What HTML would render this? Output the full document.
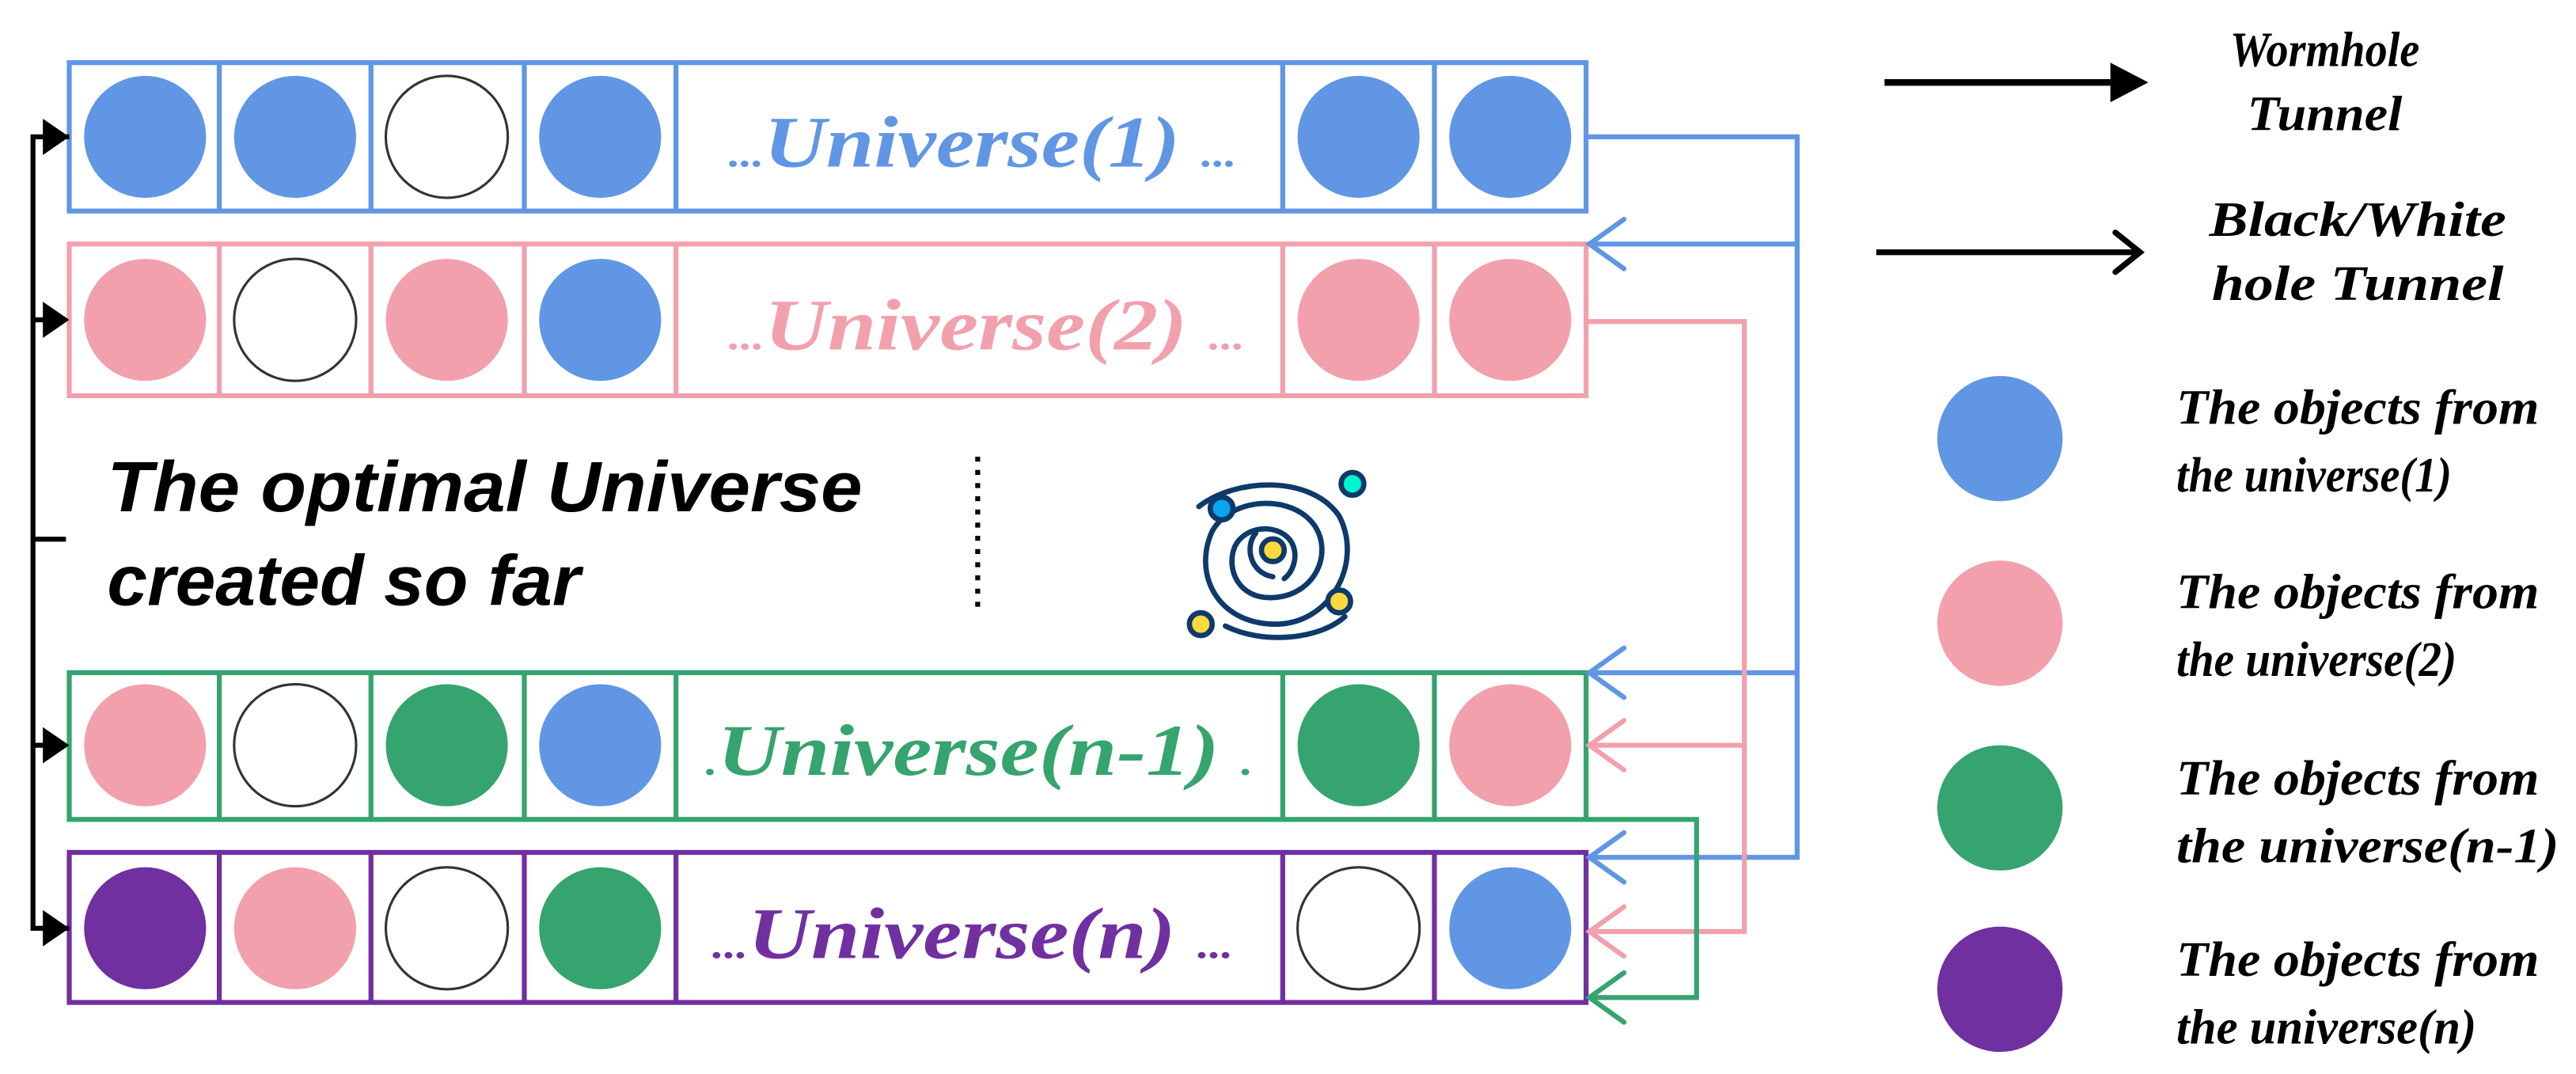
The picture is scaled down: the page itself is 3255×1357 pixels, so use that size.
<!DOCTYPE html>
<html><head><meta charset="utf-8"><style>html,body{margin:0;padding:0;background:#fff}svg{display:block}
.s{font-family:"Liberation Serif","Times New Roman",serif;font-weight:bold;font-style:italic}
.a{font-family:"Liberation Sans",Arial,sans-serif;font-weight:bold;font-style:italic}
</style></head>
<body>
<svg xmlns="http://www.w3.org/2000/svg" width="3255" height="1357" viewBox="0 0 1562.4 651.4" preserveAspectRatio="none">
<g class="s">
<!-- Row 1 -->
<g stroke="#6096E4" stroke-width="3" fill="none">
<rect x="42" y="38" width="920" height="90"/>
<line x1="133" y1="38" x2="133" y2="128"/><line x1="225" y1="38" x2="225" y2="128"/><line x1="318" y1="38" x2="318" y2="128"/><line x1="410" y1="38" x2="410" y2="128"/><line x1="778" y1="38" x2="778" y2="128"/><line x1="870" y1="38" x2="870" y2="128"/>
</g>
<circle cx="88" cy="83" r="37" fill="#6096E4"/><circle cx="179" cy="83" r="37" fill="#6096E4"/><circle cx="271" cy="83" r="37" fill="#fff" stroke="#333" stroke-width="1.5"/><circle cx="364" cy="83" r="37" fill="#6096E4"/><circle cx="824" cy="83" r="37" fill="#6096E4"/><circle cx="916" cy="83" r="37" fill="#6096E4"/>
<text class="s" x="442" y="101" font-size="44" fill="#6096E4" textLength="308" lengthAdjust="spacingAndGlyphs"><tspan font-size="24">...</tspan>Universe(1) <tspan font-size="24">...</tspan></text>
<!-- Row 2 -->
<g stroke="#F2A0AC" stroke-width="3" fill="none">
<rect x="42" y="148" width="920" height="92"/>
<line x1="133" y1="148" x2="133" y2="240"/><line x1="225" y1="148" x2="225" y2="240"/><line x1="318" y1="148" x2="318" y2="240"/><line x1="410" y1="148" x2="410" y2="240"/><line x1="778" y1="148" x2="778" y2="240"/><line x1="870" y1="148" x2="870" y2="240"/>
</g>
<circle cx="88" cy="194" r="37" fill="#F2A0AC"/><circle cx="179" cy="194" r="37" fill="#fff" stroke="#333" stroke-width="1.5"/><circle cx="271" cy="194" r="37" fill="#F2A0AC"/><circle cx="364" cy="194" r="37" fill="#6096E4"/><circle cx="824" cy="194" r="37" fill="#F2A0AC"/><circle cx="916" cy="194" r="37" fill="#F2A0AC"/>
<text class="s" x="442" y="212" font-size="44" fill="#F2A0AC" textLength="313" lengthAdjust="spacingAndGlyphs"><tspan font-size="24">...</tspan>Universe(2) <tspan font-size="24">...</tspan></text>
<!-- Row n-1 -->
<g stroke="#35A46E" stroke-width="3" fill="none">
<rect x="42" y="408" width="920" height="89"/>
<line x1="133" y1="408" x2="133" y2="497"/><line x1="225" y1="408" x2="225" y2="497"/><line x1="318" y1="408" x2="318" y2="497"/><line x1="410" y1="408" x2="410" y2="497"/><line x1="778" y1="408" x2="778" y2="497"/><line x1="870" y1="408" x2="870" y2="497"/>
</g>
<circle cx="88" cy="452" r="37" fill="#F2A0AC"/><circle cx="179" cy="452" r="37" fill="#fff" stroke="#333" stroke-width="1.5"/><circle cx="271" cy="452" r="37" fill="#35A46E"/><circle cx="364" cy="452" r="37" fill="#6096E4"/><circle cx="824" cy="452" r="37" fill="#35A46E"/><circle cx="916" cy="452" r="37" fill="#F2A0AC"/>
<text class="s" x="428" y="470" font-size="44" fill="#35A46E" textLength="332" lengthAdjust="spacingAndGlyphs"><tspan font-size="24">.</tspan>Universe(n-1) <tspan font-size="24">.</tspan></text>
<!-- Row n -->
<g stroke="#7030A0" stroke-width="3" fill="none">
<rect x="42" y="517" width="920" height="91"/>
<line x1="133" y1="517" x2="133" y2="608"/><line x1="225" y1="517" x2="225" y2="608"/><line x1="318" y1="517" x2="318" y2="608"/><line x1="410" y1="517" x2="410" y2="608"/><line x1="778" y1="517" x2="778" y2="608"/><line x1="870" y1="517" x2="870" y2="608"/>
</g>
<circle cx="88" cy="563" r="37" fill="#7030A0"/><circle cx="179" cy="563" r="37" fill="#F2A0AC"/><circle cx="271" cy="563" r="37" fill="#fff" stroke="#333" stroke-width="1.5"/><circle cx="364" cy="563" r="37" fill="#35A46E"/><circle cx="824" cy="563" r="37" fill="#fff" stroke="#333" stroke-width="1.5"/><circle cx="916" cy="563" r="37" fill="#6096E4"/>
<text class="s" x="432" y="581" font-size="44" fill="#7030A0" textLength="316" lengthAdjust="spacingAndGlyphs"><tspan font-size="24">...</tspan>Universe(n) <tspan font-size="24">...</tspan></text>

<!-- left black connector -->
<g stroke="#000" stroke-width="3" fill="none">
<polyline points="42,83 20,83 20,563 42,563"/>
<line x1="20" y1="194" x2="36" y2="194"/><line x1="20" y1="452" x2="36" y2="452"/><line x1="20" y1="327" x2="40" y2="327"/>
</g>
<g fill="#000">
<polygon points="42,83 26,72 26,94"/><polygon points="42,194 26,183 26,205"/><polygon points="42,452 26,441 26,463"/><polygon points="42,563 26,552 26,574"/>
</g>

<!-- blue connectors -->
<g stroke="#6096E4" stroke-width="3" fill="none" stroke-linecap="round">
<polyline points="962,83 1090,83 1090,520 964,520"/>
<line x1="1090" y1="148" x2="964" y2="148"/>
<line x1="1090" y1="408" x2="964" y2="408"/>
<polyline points="985,133 964,148 985,163"/><polyline points="985,393 964,408 985,423"/><polyline points="985,505 964,520 985,535"/>
</g>
<!-- pink connectors -->
<g stroke="#F2A0AC" stroke-width="3" fill="none" stroke-linecap="round">
<polyline points="962,195 1058,195 1058,565 964,565"/>
<line x1="1058" y1="452" x2="964" y2="452"/>
<polyline points="985,437 964,452 985,467"/><polyline points="985,550 964,565 985,580"/>
</g>
<!-- green connector -->
<g stroke="#35A46E" stroke-width="3" fill="none" stroke-linecap="round">
<polyline points="962,497 1029,497 1029,605 964,605"/>
<polyline points="985,590 964,605 985,620"/>
</g>

<!-- middle text -->
<text class="a" x="65" y="310" font-size="43" fill="#000" textLength="458" lengthAdjust="spacingAndGlyphs">The optimal Universe</text>
<text class="a" x="65" y="367" font-size="43" fill="#000" textLength="287" lengthAdjust="spacingAndGlyphs">created so far</text>
<line x1="593" y1="277" x2="593" y2="370" stroke="#000" stroke-width="3" stroke-dasharray="3,5"/>

<!-- galaxy icon -->
<g transform="translate(772,336) scale(1.15)" fill="none" stroke="#0E3A6B" stroke-width="2.8" stroke-linecap="round">
<path d="M-39,-25 C-20,-40 20,-42 35,-20 C48,5 30,38 0,37 C-30,36 -42,10 -32,-12 C-22,-30 10,-32 22,-15 C32,0 22,22 0,23 C-18,24 -25,8 -20,-4 C-14,-16 4,-16 10,-6 C14,2 10,10 6,13"/>
<path d="M-9,-11 C-15,-4 -12,10 0,12"/>
<path d="M38,33 C25,45 -5,48 -25,38"/>
<circle cx="-27" cy="-24" r="6" fill="#0AA5F0"/>
<circle cx="42" cy="-37" r="6" fill="#00F5D0"/>
<circle cx="0" cy="-2" r="6" fill="#FFD83C"/>
<circle cx="35" cy="25" r="6" fill="#FFD83C"/>
<circle cx="-38" cy="37" r="6" fill="#FFD83C"/>
</g>

<!-- legend -->
<line x1="1143" y1="50" x2="1280" y2="50" stroke="#000" stroke-width="4"/>
<polygon points="1303,50 1280,38 1280,62" fill="#000"/>
<text class="s" x="1410" y="40" font-size="30" text-anchor="middle" fill="#000" textLength="115" lengthAdjust="spacingAndGlyphs">Wormhole</text>
<text class="s" x="1410" y="79" font-size="30" text-anchor="middle" fill="#000" textLength="94" lengthAdjust="spacingAndGlyphs">Tunnel</text>
<line x1="1138" y1="153" x2="1296" y2="153" stroke="#000" stroke-width="3.5"/>
<polyline points="1283,141 1298,153 1283,165" fill="none" stroke="#000" stroke-width="3.5" stroke-linecap="round"/>
<text class="s" x="1430" y="143" font-size="30" text-anchor="middle" fill="#000" textLength="180" lengthAdjust="spacingAndGlyphs">Black/White</text>
<text class="s" x="1430" y="182" font-size="30" text-anchor="middle" fill="#000" textLength="177" lengthAdjust="spacingAndGlyphs">hole Tunnel</text>

<ellipse cx="1213" cy="266" rx="38" ry="38" fill="#6096E4"/>
<text class="s" x="1320" y="257" font-size="30" fill="#000" textLength="220" lengthAdjust="spacingAndGlyphs">The objects from</text>
<text class="s" x="1320" y="298" font-size="30" fill="#000" textLength="167" lengthAdjust="spacingAndGlyphs">the universe(1)</text>

<ellipse cx="1213" cy="378" rx="38" ry="38" fill="#F2A0AC"/>
<text class="s" x="1320" y="369" font-size="30" fill="#000" textLength="220" lengthAdjust="spacingAndGlyphs">The objects from</text>
<text class="s" x="1320" y="410" font-size="30" fill="#000" textLength="170" lengthAdjust="spacingAndGlyphs">the universe(2)</text>

<ellipse cx="1213" cy="490" rx="38" ry="38" fill="#35A46E"/>
<text class="s" x="1320" y="482" font-size="30" fill="#000" textLength="220" lengthAdjust="spacingAndGlyphs">The objects from</text>
<text class="s" x="1320" y="523" font-size="30" fill="#000" textLength="232" lengthAdjust="spacingAndGlyphs">the universe(n-1)</text>

<ellipse cx="1213" cy="600" rx="38" ry="38" fill="#7030A0"/>
<text class="s" x="1320" y="592" font-size="30" fill="#000" textLength="220" lengthAdjust="spacingAndGlyphs">The objects from</text>
<text class="s" x="1320" y="633" font-size="30" fill="#000" textLength="182" lengthAdjust="spacingAndGlyphs">the universe(n)</text>
</g>
</svg>
</body></html>
